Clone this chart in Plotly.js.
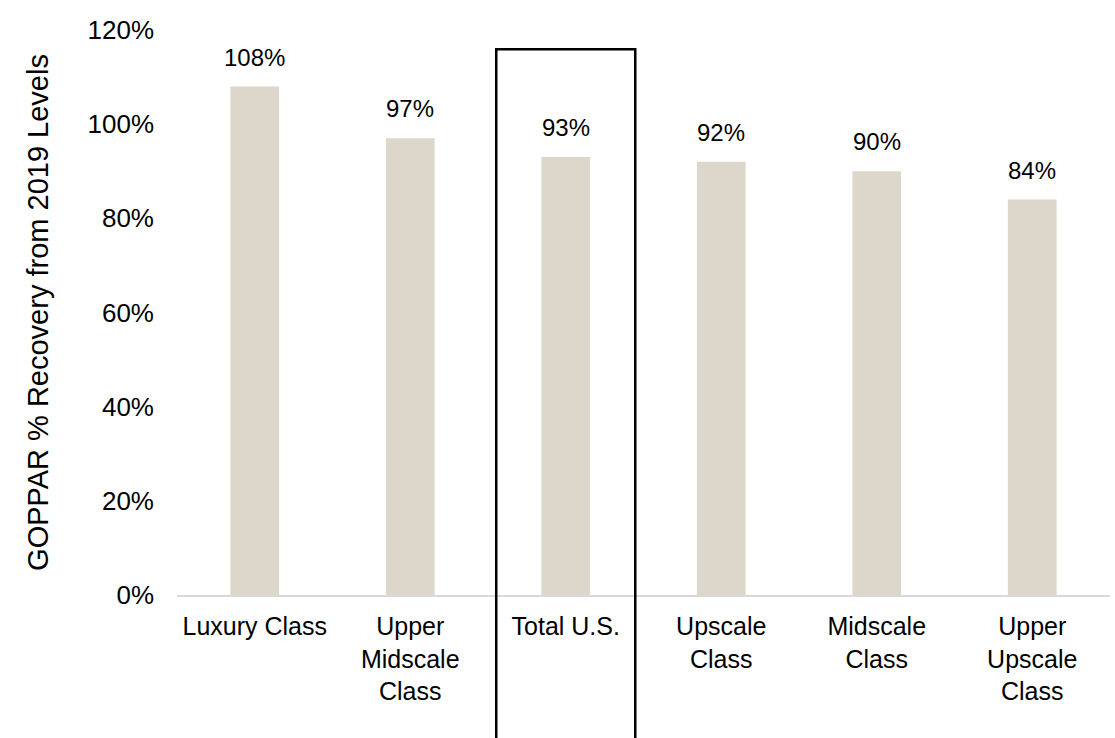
<!DOCTYPE html>
<html>
<head>
<meta charset="utf-8">
<script src="https://cdn.plot.ly/plotly-3.0.1.min.js"></script>
<style>html,body{margin:0;padding:0;background:#fff;}#chart{width:1115px;height:738px;}</style>
</head>
<body>
<div id="chart"></div>
<script>
const categories = ["Luxury Class", "Upper<br>Midscale<br>Class", "Total U.S.", "Upscale<br>Class", "Midscale<br>Class", "Upper<br>Upscale<br>Class"];
const recovery = [1.08, 0.97, 0.93, 0.92, 0.90, 0.84];
const yTickVals = [0, 0.2, 0.4, 0.6, 0.8, 1.0, 1.2];
const highlightIndex = 2;

const FONT = "Liberation Sans, Arial, sans-serif";

const trace = {
  type: "bar",
  x: categories,
  y: recovery,
  marker: {color: "#DCD7CA"},
  hoverinfo: "skip"
};

const annotations = recovery.map((v, i) => ({
  x: categories[i], y: v, xref: "x", yref: "y",
  text: Math.round(v * 100) + "%",
  showarrow: false, yanchor: "bottom", yshift: 14,
  font: {family: FONT, size: 24, color: "#000"}
}));

const layout = {
  width: 1115, height: 738,
  margin: {l: 177, r: 5, t: 30, b: 143},
  paper_bgcolor: "#fff", plot_bgcolor: "#fff",
  bargap: 0.687,
  showlegend: false,
  font: {family: FONT, color: "#000", size: 25},
  xaxis: {
    type: "category",
    showgrid: false, zeroline: false,
    showline: true, linecolor: "#D9D9D9", linewidth: 2,
    ticks: "", ticklabelstandoff: 8,
    tickfont: {family: FONT, size: 25, color: "#000"},
    fixedrange: true
  },
  yaxis: {
    range: [0, 1.2],
    tickvals: yTickVals,
    tickformat: ".0%",
    showgrid: false, zeroline: false, showline: false,
    ticks: "", ticklabelstandoff: 22,
    tickfont: {family: FONT, size: 26, color: "#000"},
    title: {text: "GOPPAR % Recovery from 2019 Levels", font: {family: FONT, size: 29, color: "#000"}, standoff: 30},
    fixedrange: true
  },
  shapes: [{
    type: "rect", xref: "x", yref: "paper",
    x0: highlightIndex - 0.447, x1: highlightIndex + 0.447,
    y0: -0.5, y1: 0.966,
    line: {color: "#000", width: 2.5},
    fillcolor: "rgba(0,0,0,0)",
    layer: "above"
  }],
  annotations: annotations
};

Plotly.newPlot("chart", [trace], layout, {displayModeBar: false, staticPlot: true});
</script>
</body>
</html>
